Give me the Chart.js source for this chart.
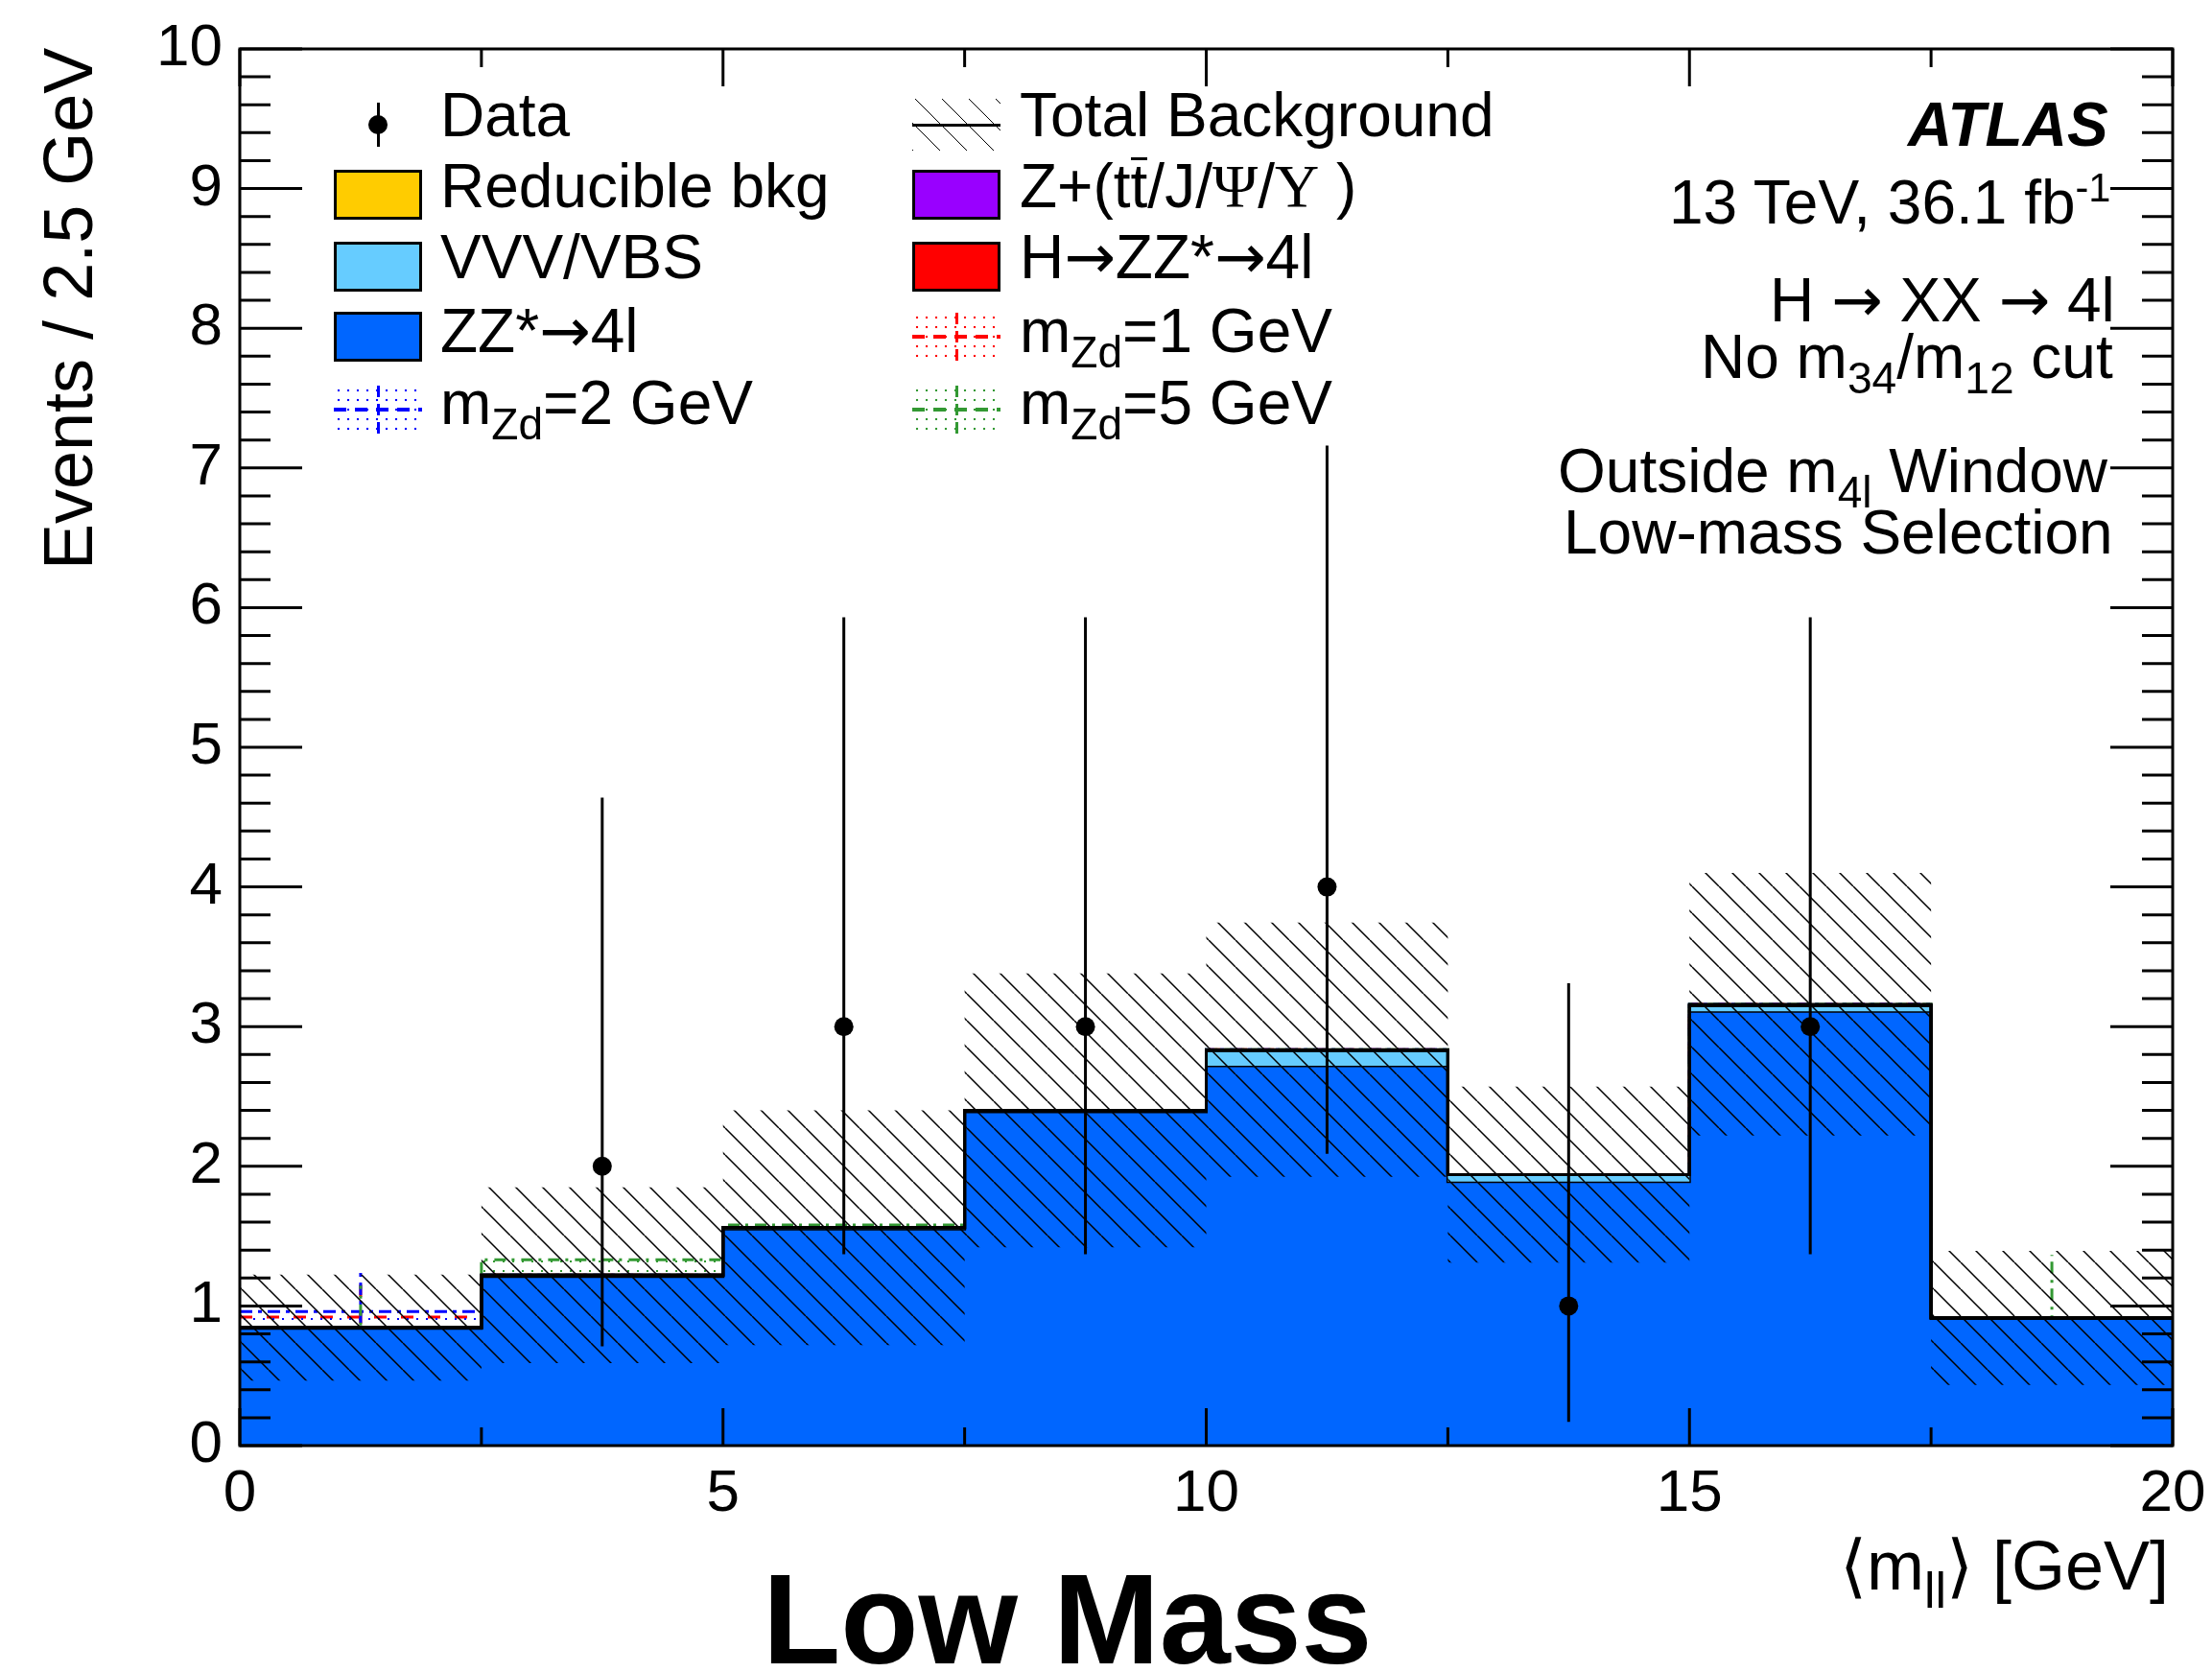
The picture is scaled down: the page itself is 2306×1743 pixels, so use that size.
<!DOCTYPE html>
<html>
<head>
<meta charset="utf-8">
<script src="https://cdn.jsdelivr.net/npm/chart.js@4.4.1/dist/chart.umd.min.js"></script>
<style>
  html, body { margin: 0; padding: 0; background: #fff; }
  #wrap { position: relative; width: 2306px; height: 1743px; overflow: hidden;
          font-family: "Liberation Sans", Arial, Helvetica, sans-serif; color: #000; }
  #plot { position: absolute; left: 0; top: 0; }
  .txt { position: absolute; white-space: nowrap; }
  .sub { position: relative; font-size: 0.72em; top: 0.36em; }
  .sup { position: relative; font-size: 0.65em; top: -0.55em; }
  .gr { font-family: "Liberation Serif", "DejaVu Serif", serif; }
  .ar { font-family: "DejaVu Sans", sans-serif; }
  .ov { display: inline-block; line-height: 0.87em; border-top: 3px solid #000; }
</style>
</head>
<body>
<div id="wrap">
  <canvas id="plot" width="2306" height="1743"></canvas>
</div>
<script>
// binning of <m_ll>
const binEdges = [0, 2.5, 5, 7.5, 10, 12.5, 15, 17.5, 20];
const binCenters = [1.25, 3.75, 6.25, 8.75, 11.25, 13.75, 16.25, 18.75];

// background components, events / bin
const zzBkg = [0.84, 1.21, 1.55, 2.39, 2.72, 1.89, 3.11, 0.91];
const vvvBkg = [0.005, 0.01, 0.01, 0.01, 0.11, 0.05, 0.04, 0.005];
const higgsBkg = [0, 0, 0, 0, 0, 0, 0, 0];
const zOniaBkg = [0, 0, 0, 0, 0, 0, 0.005, 0];
const reducibleBkg = [0, 0, 0, 0, 0.005, 0, 0.005, 0];
// half width of the hatched total background uncertainty
const bkgUncert = [0.38, 0.63, 0.84, 0.98, 0.91, 0.63, 0.94, 0.48];

// data (empty bins have no marker)
const dataCounts = [null, 2, 3, 3, 4, 1, 3, null];
const dataLowEdge = [null, 0.71, 1.37, 1.37, 2.09, 0.17, 1.37, null];
const dataHighEdge = [null, 4.64, 5.93, 5.93, 7.16, 3.31, 5.93, null];

// signal hypotheses, stacked on top of the total background
const sigMzd1 = [0.075, 0, 0, 0, 0, 0, 0, 0];
const sigMzd1Err = [0.24, 0, 0, 0, 0, 0, 0, 0];
const sigMzd2 = [0.115, 0, 0, 0, 0, 0, 0, 0];
const sigMzd2Err = [0.28, 0, 0, 0, 0, 0, 0, 0];
const sigMzd5 = [0, 0.11, 0.02, 0, 0, 0, 0, 0];
const sigMzd5Err = [0.30, 0, 0, 0, 0, 0, 0, 0.45];

const xTickLabels = [0, 5, 10, 15, 20];
const yTickLabels = [0, 1, 2, 3, 4, 5, 6, 7, 8, 9, 10];

const colZZ = '#0066ff', colVVV = '#66ccff', colHiggs = '#ff0000',
      colZOnia = '#9900ff', colReducible = '#ffcc00';
const colMzd1 = '#ff0000', colMzd2 = '#0000ff', colMzd5 = '#339933';

Chart.defaults.font.family = '"Liberation Sans", Arial, sans-serif';
Chart.defaults.color = '#000';

const addArr = (a, b) => a.map((v, i) => v + b[i]);
const cumVVV = addArr(zzBkg, vvvBkg);
const cumHiggs = addArr(cumVVV, higgsBkg);
const cumZOnia = addArr(cumHiggs, zOniaBkg);
const totalBkg = addArr(cumZOnia, reducibleBkg);

// step outline: one point per left bin edge plus the closing right edge
function histPoints(values) {
    return binEdges.map((e, i) => ({ x: e, y: values[Math.min(i, values.length - 1)] }));
}

const plotCanvas = document.getElementById('plot');
const pctx = plotCanvas.getContext('2d');

function hatchPattern() {
    const s = 28;
    const c = document.createElement('canvas');
    c.width = s; c.height = s;
    const g = c.getContext('2d');
    g.strokeStyle = '#000';
    g.lineWidth = 1.5;
    g.beginPath();
    [-1, 0, 1].forEach(k => { g.moveTo(k * s, 0); g.lineTo(k * s + s, s); });
    g.stroke();
    return pctx.createPattern(c, 'repeat');
}

function dotPattern(color) {
    const c = document.createElement('canvas');
    c.width = 10; c.height = 10;
    const g = c.getContext('2d');
    g.fillStyle = color;
    g.fillRect(4, 4, 2, 2);
    return pctx.createPattern(c, 'repeat');
}

function signalSet(sig, err, color, dash, order) {
    const top = addArr(totalBkg, sig);
    return {
        data: histPoints(top),
        borderColor: color,
        borderWidth: 3,
        borderDash: dash,
        backgroundColor: dotPattern(color),
        fill: 4,
        stepped: true,
        order: order,
        errorColor: color,
        errorDash: dash,
        errorBars: binCenters.map((c, i) => ({ x: c, lo: top[i] - err[i], hi: top[i] + err[i] }))
                             .filter((b, i) => err[i] > 0)
    };
}

function bkgSet(values, color, fill, order) {
    return {
        data: histPoints(values),
        borderColor: '#000',
        borderWidth: 3,
        backgroundColor: color,
        fill: fill,
        stepped: true,
        order: order
    };
}

const datasets = [
    bkgSet(zzBkg, colZZ, 'origin', 9),          // 0
    bkgSet(cumVVV, colVVV, 0, 8),               // 1
    bkgSet(cumHiggs, colHiggs, 1, 7),           // 2
    bkgSet(cumZOnia, colZOnia, 2, 6),           // 3
    bkgSet(totalBkg, colReducible, 3, 5),       // 4
    signalSet(sigMzd1, sigMzd1Err, colMzd1, [13, 15], 12),        // 5
    signalSet(sigMzd2, sigMzd2Err, colMzd2, [13, 6, 4, 6], 11),   // 6
    signalSet(sigMzd5, sigMzd5Err, colMzd5, [12, 6, 3, 7], 10),   // 7
    {   // 8: hatched band, upper edge
        data: histPoints(totalBkg.map((v, i) => v + bkgUncert[i])),
        borderWidth: 0, borderColor: 'rgba(0,0,0,0)',
        backgroundColor: hatchPattern(), fill: 9, stepped: true, order: 3
    },
    {   // 9: hatched band, lower edge
        data: histPoints(totalBkg.map((v, i) => v - bkgUncert[i])),
        borderWidth: 0, borderColor: 'rgba(0,0,0,0)', fill: false, stepped: true, order: 3
    },
    {   // 10: data
        data: binCenters.map((c, i) => ({ x: c, y: dataCounts[i] })).filter(p => p.y !== null),
        showLine: false,
        pointRadius: 10,
        pointBackgroundColor: '#000',
        pointBorderWidth: 0,
        order: 0,
        errorColor: '#000',
        errorBars: binCenters.map((c, i) => ({ x: c, lo: dataLowEdge[i], hi: dataHighEdge[i] }))
                             .filter(b => b.lo !== null)
    }
];

const errorBarsPlugin = {
    id: 'errorBars',
    afterDatasetDraw(chart, args) {
        const ds = chart.data.datasets[args.index];
        if (!ds.errorBars) return;
        const { ctx, chartArea: a, scales: { x, y } } = chart;
        ctx.save();
        ctx.beginPath();
        ctx.rect(a.left, a.top, a.right - a.left, a.bottom - a.top);
        ctx.clip();
        ctx.strokeStyle = ds.errorColor;
        ctx.lineWidth = 3;
        ctx.setLineDash(ds.errorDash || []);
        ds.errorBars.forEach(b => {
            const px = x.getPixelForValue(b.x);
            ctx.beginPath();
            ctx.moveTo(px, y.getPixelForValue(b.lo));
            ctx.lineTo(px, y.getPixelForValue(b.hi));
            ctx.stroke();
        });
        ctx.restore();
    }
};

// ROOT style frame with inward ticks on all four sides
const frameTicksPlugin = {
    id: 'frameTicks',
    afterDraw(chart) {
        const { ctx, chartArea: a, scales: { x, y } } = chart;
        ctx.save();
        ctx.strokeStyle = '#000';
        ctx.lineWidth = 3;
        ctx.beginPath();
        for (let k = 0; k <= 8; k++) {
            const px = x.getPixelForValue(k * 2.5);
            const len = k % 2 === 0 ? 39 : 19;
            ctx.moveTo(px, a.bottom); ctx.lineTo(px, a.bottom - len);
            ctx.moveTo(px, a.top); ctx.lineTo(px, a.top + len);
        }
        for (let k = 0; k <= 50; k++) {
            const py = y.getPixelForValue(k * 0.2);
            const len = k % 5 === 0 ? 65 : 32;
            ctx.moveTo(a.left, py); ctx.lineTo(a.left + len, py);
            ctx.moveTo(a.right, py); ctx.lineTo(a.right - len, py);
        }
        ctx.stroke();
        ctx.strokeRect(a.left, a.top, a.right - a.left, a.bottom - a.top);
        ctx.restore();
    }
};

new Chart(plotCanvas, {
    type: 'line',
    data: { datasets: datasets },
    options: {
        responsive: false,
        animation: false,
        devicePixelRatio: 1,
        layout: { padding: { left: 0, top: 51, right: 41, bottom: 0 } },
        elements: { point: { radius: 0 }, line: { tension: 0, borderJoinStyle: 'miter' } },
        plugins: { legend: { display: false }, tooltip: { enabled: false } },
        scales: {
            x: {
                type: 'linear', min: 0, max: 20,
                grid: { display: false, drawTicks: false },
                border: { display: false },
                afterBuildTicks: s => { s.ticks = xTickLabels.map(v => ({ value: v })); },
                ticks: { font: { size: 62 }, color: '#000', padding: 14, maxRotation: 0, autoSkip: false },
                afterFit: s => { s.height = 236; s.paddingLeft = 0; s.paddingRight = 0; }
            },
            y: {
                type: 'linear', min: 0, max: 10,
                grid: { display: false, drawTicks: false },
                border: { display: false },
                afterBuildTicks: s => { s.ticks = yTickLabels.map(v => ({ value: v })); },
                ticks: { font: { size: 62 }, color: '#000', padding: 18 },
                afterFit: s => { s.width = 250; s.paddingTop = 0; s.paddingBottom = 0; }
            }
        }
    },
    plugins: [errorBarsPlugin, frameTicksPlugin]
});

// ---- text and legend overlay ----
const wrap = document.getElementById('wrap');
const textSize = 64;

function addText(html, x, baseline, opts = {}) {
    const size = opts.size || textSize;
    const el = document.createElement('div');
    el.className = 'txt';
    el.innerHTML = html;
    el.style.fontSize = size + 'px';
    el.style.lineHeight = size + 'px';
    if (opts.bold) el.style.fontWeight = 'bold';
    if (opts.italic) el.style.fontStyle = 'italic';
    el.style.top = (baseline - 0.8465 * size) + 'px';
    wrap.appendChild(el);
    const w = el.offsetWidth;
    if (opts.align === 'right') el.style.left = (x - w) + 'px';
    else if (opts.align === 'center') el.style.left = (x - w / 2) + 'px';
    else el.style.left = x + 'px';
    return el;
}

function addBox(left, top, w, h, style) {
    const d = document.createElement('div');
    d.style.cssText = `position:absolute;left:${left}px;top:${top}px;width:${w}px;height:${h}px;box-sizing:border-box;${style}`;
    wrap.appendChild(d);
    return d;
}

const arrow = '<span class="ar">→</span>';
const legendRows = [130, 203, 278, 351, 427];
const legendBase = [142, 216, 290, 367, 442];
const legendCols = [
    { boxX: 348, textX: 459, items: [
        { sym: 'data', label: 'Data' },
        { sym: 'box', color: colReducible, label: 'Reducible bkg' },
        { sym: 'box', color: colVVV, label: 'VVV/VBS' },
        { sym: 'box', color: colZZ, label: 'ZZ*' + arrow + '4l' },
        { sym: 'sig', color: colMzd2, label: 'm<span class="sub">Zd</span>=2 GeV' }
    ] },
    { boxX: 951, textX: 1063, items: [
        { sym: 'hatch', label: 'Total Background' },
        { sym: 'box', color: colZOnia, label: 'Z+(t<span class="ov">t</span>/J/<span class="gr">Ψ</span>/<span class="gr">Υ</span> )' },
        { sym: 'box', color: colHiggs, label: 'H' + arrow + 'ZZ*' + arrow + '4l' },
        { sym: 'sig', color: colMzd1, label: 'm<span class="sub">Zd</span>=1 GeV' },
        { sym: 'sig', color: colMzd5, label: 'm<span class="sub">Zd</span>=5 GeV' }
    ] }
];

legendCols.forEach(col => {
    col.items.forEach((it, r) => {
        const cy = legendRows[r];
        const bx = col.boxX, bw = 92;
        if (it.sym === 'data') {
            addBox(bx + bw / 2 - 1.5, cy - 23, 3, 46, 'background:#000');
            addBox(bx + bw / 2 - 10, cy - 10, 20, 20, 'background:#000;border-radius:50%');
        } else if (it.sym === 'box') {
            addBox(bx, cy - 26, bw, 52, `background:${it.color};border:3px solid #000`);
        } else if (it.sym === 'hatch') {
            addBox(bx, cy - 27, bw, 54, 'background:repeating-linear-gradient(45deg,#000 0 1.4px,transparent 1.4px 19.8px)');
            addBox(bx, cy - 1.5, bw, 3, 'background:#000');
        } else if (it.sym === 'sig') {
            addBox(bx, cy - 25, bw, 50, `background-image:radial-gradient(${it.color} 1.1px,transparent 1.6px);background-size:10px 10px`);
            addBox(bx, cy - 2, bw, 4, `background:repeating-linear-gradient(90deg,${it.color} 0 13px,transparent 13px 22px)`);
            addBox(bx + bw / 2 - 1.5, cy - 25, 3, 50, `background:repeating-linear-gradient(180deg,${it.color} 0 12px,transparent 12px 19px)`);
        }
        addText(it.label, col.textX, legendBase[r]);
    });
});

// ATLAS label block
addText('ATLAS', 2198, 152, { bold: true, italic: true, align: 'right' });
addText('13 TeV, 36.1 fb<span class="sup">-1</span>', 2200, 233, { align: 'right' });
addText('H ' + arrow + ' XX ' + arrow + ' 4l', 2205, 335, { align: 'right' });
addText('No m<span class="sub">34</span>/m<span class="sub">12</span> cut', 2203, 394, { align: 'right' });
addText('Outside m<span class="sub">4l</span> Window', 2197, 513, { align: 'right' });
addText('Low-mass Selection', 2203, 577, { align: 'right' });

// axis titles
addText('⟨m<span class="sub">ll</span>⟩ [GeV]', 2261, 1657, { size: 72, align: 'right' });
const yTitle = addText('Events / 2.5 GeV', 0, 0, { size: 72 });
const yTitleW = yTitle.offsetWidth;
yTitle.style.transformOrigin = '0 0';
yTitle.style.transform = 'rotate(-90deg)';
yTitle.style.left = (96 - 0.8465 * 72) + 'px';
yTitle.style.top = (50 + yTitleW) + 'px';

addText('Low Mass', 1113, 1735, { size: 133, bold: true, align: 'center' });
</script>
</body>
</html>
